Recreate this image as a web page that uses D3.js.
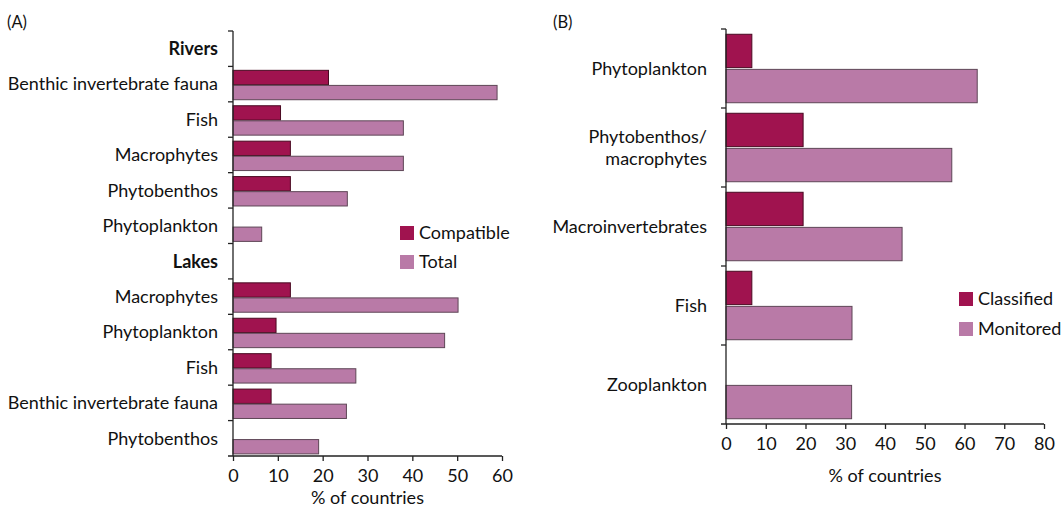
<!DOCTYPE html>
<html lang="en">
<head>
  <meta charset="utf-8">
  <title>Biological quality elements</title>
  <style>
    html,body { margin:0; padding:0; background:#fff; }
    svg { display:block; }
    text { font-family: Lato, "Open Sans", sans-serif; fill:#111; }
  </style>
  <script src="https://d3js.org/d3.v7.min.js"></script>
</head>
<body>
<svg width="1061" height="508"></svg>
<script>
// panel A: rivers and lakes, compatible vs total
const catsA = ["Rivers", "Benthic invertebrate fauna", "Fish", "Macrophytes", "Phytobenthos", "Phytoplankton",
               "Lakes", "Macrophytes ", "Phytoplankton ", "Fish ", "Benthic invertebrate fauna ", "Phytobenthos "];
const headersA = ["Rivers", "Lakes"];
const compatibleA = [null, 21.3, 10.6, 12.8, 12.8, 0, null, 12.8, 9.6, 8.5, 8.5, 0];
const totalA      = [null, 58.9, 38.0, 38.0, 25.5, 6.4, null, 50.2, 47.2, 27.4, 25.3, 19.1];
const ticksA = [0, 10, 20, 30, 40, 50, 60];

// panel B
const catsB = ["Phytoplankton", "Phytobenthos/\nmacrophytes", "Macroinvertebrates", "Fish", "Zooplankton"];
const classifiedB = [6.5, 19.4, 19.4, 6.5, 0];
const monitoredB  = [63.2, 56.8, 44.3, 31.7, 31.6];
const ticksB = [0, 10, 20, 30, 40, 50, 60, 70, 80];

const darkFill = "#a0134f", darkStroke = "#4a0a22";
const lightFill = "#b97aa7", lightStroke = "#5e4656";
const FS = 18;

const svg = d3.select("svg");

function panel(o) {
  const g = svg.append("g");
  const x = d3.scaleLinear().domain(o.domain).range([o.x0, o.x1]);
  const y = d3.scaleBand().domain(o.cats).range([o.y0, o.y1]);
  const sub = d3.scaleBand().domain(["a", "b"]).range([0, y.bandwidth()])
    .paddingInner(o.pin).paddingOuter(o.pout).align(o.align);

  const rows = o.cats.map((c, i) => ({c, a: o.a[i], b: o.b[i]}));

  g.selectAll("rect.a").data(rows.filter(d => d.a)).join("rect")
    .attr("x", x(0)).attr("y", d => y(d.c) + sub("a"))
    .attr("width", d => x(d.a) - x(0)).attr("height", sub.bandwidth())
    .attr("fill", darkFill).attr("stroke", darkStroke).attr("stroke-width", 1);
  g.selectAll("rect.b").data(rows.filter(d => d.b)).join("rect")
    .attr("x", x(0)).attr("y", d => y(d.c) + sub("b"))
    .attr("width", d => x(d.b) - x(0)).attr("height", sub.bandwidth())
    .attr("fill", lightFill).attr("stroke", lightStroke).attr("stroke-width", 1);

  // y axis line with ticks at band boundaries
  g.append("line").attr("x1", x(0)).attr("x2", x(0)).attr("y1", o.y0).attr("y2", o.y1)
    .attr("stroke", "#222").attr("stroke-width", 1.3);
  const bounds = o.cats.map(c => y(c));
  g.selectAll("line.yt").data(bounds).join("line")
    .attr("x1", x(0) - 5).attr("x2", x(0)).attr("y1", d => d).attr("y2", d => d)
    .attr("stroke", "#222").attr("stroke-width", 1.3);

  // category labels
  const lab = g.selectAll("text.cat").data(o.cats).join("text")
    .attr("text-anchor", "end")
    .attr("font-size", FS)
    .attr("font-weight", d => o.bold.includes(d) ? "bold" : "normal")
    .attr("transform", d => `translate(${x(0) - o.labGap},${y(d) + y.bandwidth() / 2})`);
  lab.each(function(d) {
    const lines = d.trim().split("\n");
    const t = d3.select(this);
    lines.forEach((l, i) => {
      t.append("tspan").attr("x", 0)
        .attr("dy", i === 0 ? (0.35 - (lines.length - 1) * 0.6) + "em" : "1.2em")
        .text(l);
    });
  });

  // x axis
  const xa = g.append("g").attr("transform", `translate(0,${o.y1})`)
    .call(d3.axisBottom(x).tickValues(o.ticks).tickSize(5).tickPadding(o.tickPad));
  xa.select(".domain").attr("d", `M${x(0) - 5},0H${o.x1}`).attr("stroke", "#222").attr("stroke-width", 1.3);
  xa.selectAll(".tick line").attr("stroke", "#222").attr("stroke-width", 1.3);
  xa.selectAll(".tick text").attr("font-size", FS).attr("font-family", "Lato, sans-serif").attr("fill", "#111");

  g.append("text").attr("x", (o.x0 + o.x1) / 2).attr("y", o.titleY)
    .attr("text-anchor", "middle").attr("font-size", FS).text("% of countries");

  g.append("text").attr("x", o.tagX).attr("y", 28).attr("font-size", 16.5).text(o.tag);

  // legend
  o.legend.forEach((l, i) => {
    const ly = o.legY + i * o.legStep;
    g.append("rect").attr("x", o.legX).attr("y", ly - 7).attr("width", 14).attr("height", 14)
      .attr("fill", i === 0 ? darkFill : lightFill);
    g.append("text").attr("x", o.legX + 19).attr("y", ly).attr("dy", "0.35em")
      .attr("font-size", FS).text(l);
  });
}

panel({
  cats: catsA, bold: headersA, a: compatibleA, b: totalA, ticks: ticksA,
  domain: [0, 60], x0: 233, x1: 502, y0: 31, y1: 456,
  pin: 0.05, pout: 0.2, align: 0.65, labGap: 15, tickPad: 8,
  titleY: 504, tag: "(A)", tagX: 7,
  legend: ["Compatible", "Total"], legX: 400, legY: 233, legStep: 29
});

panel({
  cats: catsB, bold: [], a: classifiedB, b: monitoredB, ticks: ticksB,
  domain: [0, 80], x0: 726, x1: 1044, y0: 29, y1: 424,
  pin: 0.05, pout: 0.15, align: 0.5, labGap: 19, tickPad: 8,
  titleY: 482, tag: "(B)", tagX: 553,
  legend: ["Classified", "Monitored"], legX: 959, legY: 299, legStep: 30
});
</script>
</body>
</html>
